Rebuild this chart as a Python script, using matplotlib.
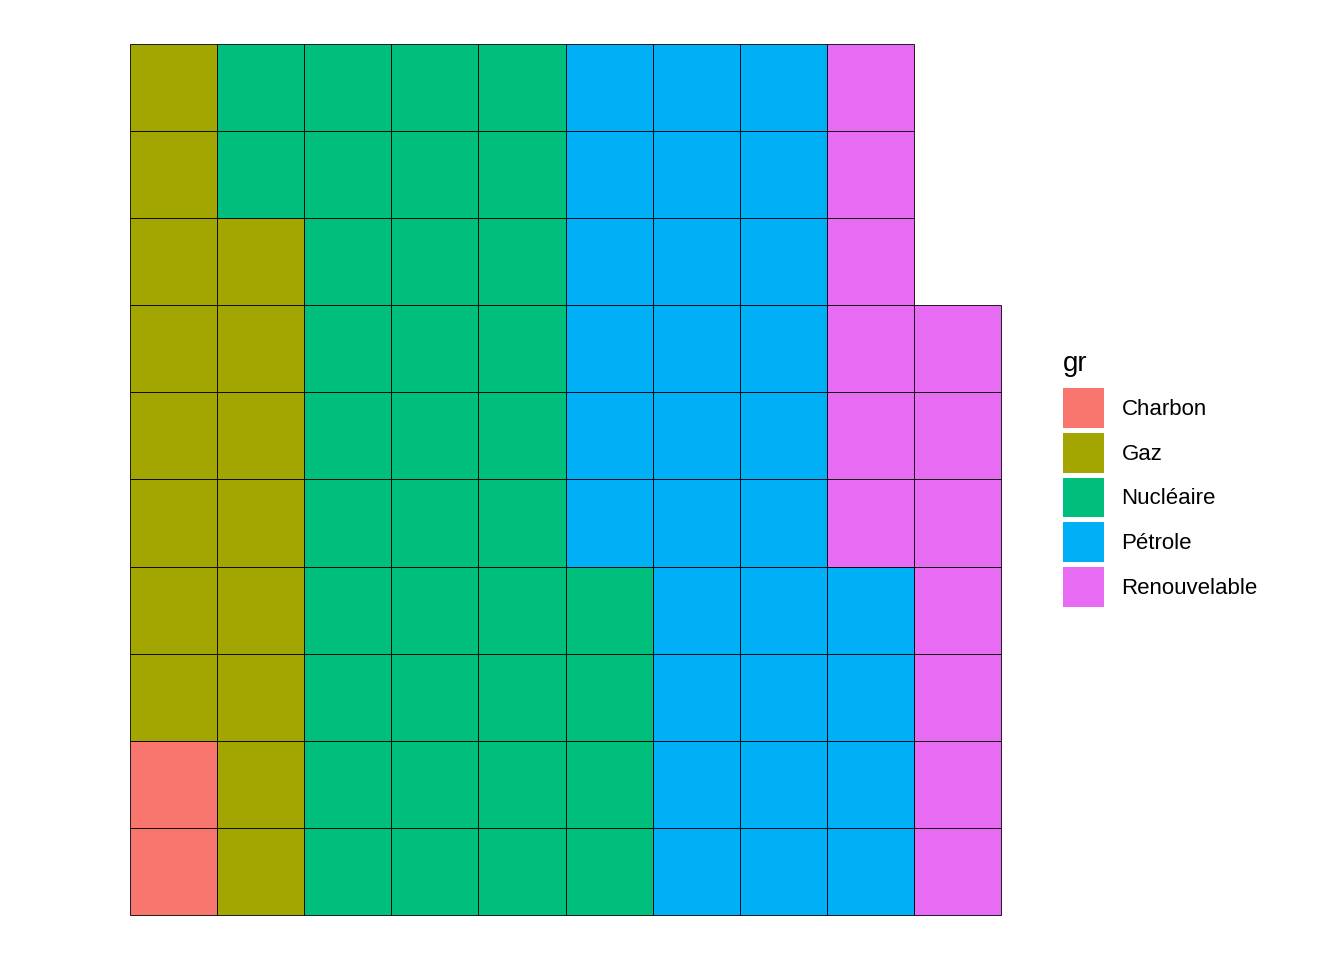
import matplotlib.pyplot as plt
from matplotlib.patches import Rectangle

plt.rcParams['font.family'] = ['Liberation Sans', 'DejaVu Sans']

# waffle counts, filled column by column from the bottom
categories = ["Charbon", "Gaz", "Nucléaire", "Pétrole", "Renouvelable"]
counts = [2, 16, 36, 30, 13]
colours = ["#F8766D", "#A3A500", "#00BF7D", "#00B0F6", "#E76BF3"]
nrows = 10

fig = plt.figure(figsize=(13.44, 9.6), dpi=100)
ax = fig.add_axes([130/1344, 1 - 916/960, 871/1344, 873/960])

cells = []
for cat, n in zip(categories, counts):
    cells += [cat] * n
for i, cat in enumerate(cells):
    col = i // nrows
    row = i % nrows
    ax.add_patch(Rectangle((col, row), 1, 1, facecolor=colours[categories.index(cat)],
                           edgecolor="black", linewidth=0.6, clip_on=False))

ncols = (len(cells) + nrows - 1) // nrows
ax.set_xlim(0, ncols)
ax.set_ylim(0, nrows)
ax.set_aspect("equal")
ax.axis("off")

handles = [Rectangle((0, 0), 1, 1, facecolor=c, edgecolor="none") for c in colours]
leg = fig.legend(handles, categories, title="gr", loc="upper left",
                 bbox_to_anchor=(1063/1344, 1 - 351/960), frameon=False,
                 fontsize=16, title_fontsize=20, handlelength=1.85, handleheight=2.37,
                 labelspacing=0.23, handletextpad=0.78, borderpad=0, borderaxespad=0,
                 alignment="left")
leg._legend_box.sep = 8

fig.savefig("out.png", dpi=100)
